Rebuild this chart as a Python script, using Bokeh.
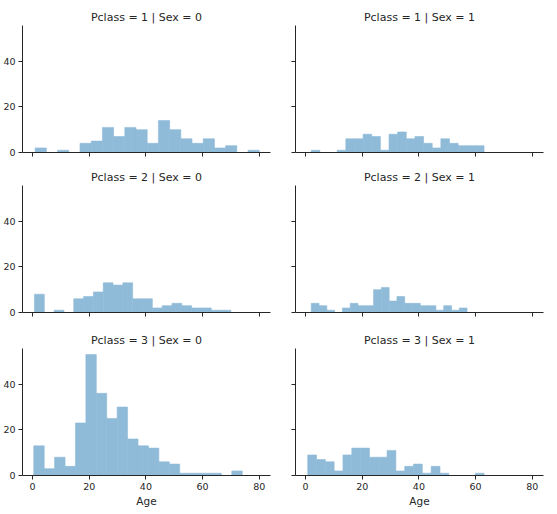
import numpy as np
from bokeh.plotting import figure
from bokeh.models import Range1d, ColumnDataSource, FixedTicker, CustomJSTickFormatter
from bokeh.layouts import gridplot
from bokeh.embed import file_html
from bokeh.resources import INLINE

pclass_values = [1, 2, 3]
sex_values = [0, 1]
x_ticks = [0, 20, 40, 60, 80]
y_ticks = [0, 20, 40]
x_label = "Age"

# age range of each facet (histogram spans min..max in 20 bins)
age_min_p1_s0, age_max_p1_s0 = 0.92, 80.0
age_min_p1_s1, age_max_p1_s1 = 2.0, 63.0
age_min_p2_s0, age_max_p2_s0 = 0.67, 70.0
age_min_p2_s1, age_max_p2_s1 = 2.0, 57.0
age_min_p3_s0, age_max_p3_s0 = 0.42, 74.0
age_min_p3_s1, age_max_p3_s1 = 0.75, 63.0

counts_p1_s0 = [2, 0, 1, 0, 4, 5, 11, 7, 11, 10, 4, 14, 10, 6, 4, 6, 2, 3, 0, 1]
counts_p1_s1 = [1, 0, 0, 1, 6, 6, 8, 7, 1, 8, 9, 6, 7, 4, 2, 6, 4, 3, 3, 3]
counts_p2_s0 = [8, 0, 1, 0, 6, 7, 9, 13, 12, 13, 6, 6, 2, 3, 4, 3, 2, 2, 1, 1]
counts_p2_s1 = [4, 3, 1, 0, 2, 4, 3, 3, 10, 11, 5, 7, 4, 4, 3, 3, 1, 3, 1, 2]
counts_p3_s0 = [13, 3, 8, 4, 23, 53, 36, 25, 30, 16, 13, 12, 6, 5, 1, 1, 1, 1, 0, 2]
counts_p3_s1 = [9, 7, 6, 2, 9, 12, 12, 8, 8, 11, 2, 4, 5, 1, 4, 1, 0, 0, 0, 1]

facets = {
    (1, 0): (age_min_p1_s0, age_max_p1_s0, counts_p1_s0),
    (1, 1): (age_min_p1_s1, age_max_p1_s1, counts_p1_s1),
    (2, 0): (age_min_p2_s0, age_max_p2_s0, counts_p2_s0),
    (2, 1): (age_min_p2_s1, age_max_p2_s1, counts_p2_s1),
    (3, 0): (age_min_p3_s0, age_max_p3_s0, counts_p3_s0),
    (3, 1): (age_min_p3_s1, age_max_p3_s1, counts_p3_s1),
}

all_min = min(v[0] for v in facets.values())
all_max = max(v[1] for v in facets.values())
pad = 0.05 * (all_max - all_min)
x_lo, x_hi = all_min - pad, all_max + pad
y_hi = 1.05 * max(max(v[2]) for v in facets.values())

FONT = "DejaVu Sans"
DARK = "#262626"
BAR = "#8fbbd9"   # matplotlib C0 at alpha 0.5 over white

top_borders = [25, 19, 22]

rows = []
for ri, pc in enumerate(pclass_values):
    row = []
    for ci, sx in enumerate(sex_values):
        lo, hi, cnt = facets[(pc, sx)]
        edges = np.linspace(lo, hi, len(cnt) + 1)
        keep = [i for i, c in enumerate(cnt) if c > 0]
        src = ColumnDataSource(dict(left=[edges[i] for i in keep],
                                    right=[edges[i + 1] for i in keep],
                                    top=[cnt[i] for i in keep],
                                    bottom=[0] * len(keep)))
        last = ri == len(pclass_values) - 1
        first_col = ci == 0
        p = figure(frame_width=248, frame_height=127,
                   x_range=Range1d(x_lo, x_hi), y_range=Range1d(0, y_hi),
                   output_backend="svg", toolbar_location=None,
                   min_border_left=21 if first_col else 19,
                   min_border_right=6 if first_col else 5,
                   min_border_top=top_borders[ri],
                   min_border_bottom=34 if last else 14,
                   background_fill_color="white", border_fill_color="white",
                   outline_line_color=None)
        p.title.text = f"Pclass = {pc} | Sex = {sx}"
        p.title.align = "center"
        p.title.text_font = FONT
        p.title.text_font_size = "11px"
        p.title.text_font_style = "normal"
        p.title.text_color = DARK
        p.title.standoff = 4
        p.quad(left="left", right="right", top="top", bottom="bottom",
               source=src, fill_color=BAR, line_color=BAR, line_width=0.6)
        p.grid.visible = False
        for ax in (p.xaxis[0], p.yaxis[0]):
            ax.axis_line_color = DARK
            ax.axis_line_width = 1
            ax.major_tick_line_color = DARK
            ax.major_tick_in = 0
            ax.major_tick_out = 4
            ax.minor_tick_line_color = None
            ax.major_label_text_font = FONT
            ax.major_label_text_font_size = "9.5px"
            ax.major_label_text_color = DARK
            ax.major_label_standoff = 3
        p.xaxis.ticker = FixedTicker(ticks=x_ticks)
        p.yaxis.ticker = FixedTicker(ticks=y_ticks)
        if not last:
            p.xaxis.formatter = CustomJSTickFormatter(code="return ''")
            p.xaxis.major_label_text_font_size = "0px"
            p.xaxis.major_label_standoff = 0
        else:
            p.xaxis.axis_label = x_label
            p.xaxis.axis_label_text_font = FONT
            p.xaxis.axis_label_text_font_size = "10.5px"
            p.xaxis.axis_label_text_font_style = "normal"
            p.xaxis.axis_label_text_color = DARK
            p.xaxis.axis_label_standoff = 2
        if not first_col:
            p.yaxis.formatter = CustomJSTickFormatter(code="return ''")
            p.yaxis.major_label_text_font_size = "0px"
            p.yaxis.major_label_standoff = 0
        row.append(p)
    rows.append(row)

grid = gridplot(rows, toolbar_location=None)
open("out.html", "w").write(file_html(grid, INLINE))
